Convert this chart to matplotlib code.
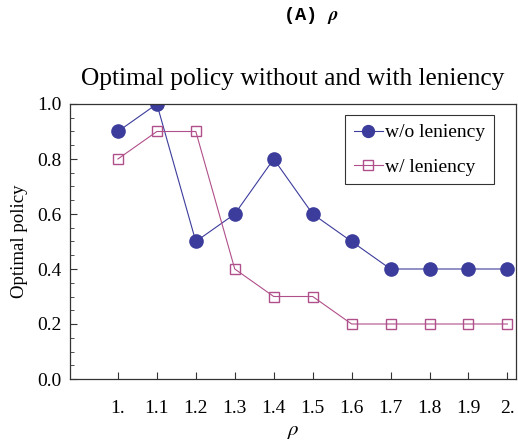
import matplotlib
matplotlib.use("Agg")
import matplotlib.pyplot as plt
from matplotlib.ticker import MultipleLocator, FixedLocator

rho = [1.0, 1.1, 1.2, 1.3, 1.4, 1.5, 1.6, 1.7, 1.8, 1.9, 2.0]
wo_leniency = [0.9, 1.0, 0.5, 0.6, 0.8, 0.6, 0.5, 0.4, 0.4, 0.4, 0.4]
w_leniency = [0.8, 0.9, 0.9, 0.4, 0.3, 0.3, 0.2, 0.2, 0.2, 0.2, 0.2]
xtick_labels = ["1.", "1.1", "1.2", "1.3", "1.4", "1.5", "1.6", "1.7", "1.8", "1.9", "2."]
ytick_vals = [0.0, 0.2, 0.4, 0.6, 0.8, 1.0]

plt.rcParams['font.family'] = ['Liberation Serif', 'DejaVu Serif']
plt.rcParams['mathtext.fontset'] = 'stix'

fig = plt.figure(figsize=(5.18, 4.40), dpi=100)
ax = fig.add_axes([70/518, 61/440, 446/518, 275/440])

blue = '#3C3C9C'
pink = '#B0508A'

ax.plot(rho, wo_leniency, color=blue, lw=0.8, marker='o', ms=9.5,
        mfc=blue, mec=blue, label='w/o leniency')
ax.plot(rho, w_leniency, color=pink, lw=0.8, marker='s', ms=7.5,
        mfc='none', mec=pink, mew=1.0, label='w/ leniency')

ax.set_xlim(0.877, 2.022)
ax.set_ylim(0.0, 1.0)
ax.xaxis.set_major_locator(FixedLocator(rho))
ax.set_xticklabels(xtick_labels)
ax.yaxis.set_major_locator(FixedLocator(ytick_vals))
ax.set_yticklabels(["%.1f" % v for v in ytick_vals])
ax.yaxis.set_minor_locator(MultipleLocator(0.05))

ax.tick_params(axis='both', which='major', direction='in', labelsize=14,
               top=False, right=False, length=5, width=0.8, color='#333333')
ax.tick_params(axis='y', which='minor', direction='in', length=3, width=0.6,
               right=False, color='#333333')
ax.tick_params(axis='x', pad=15)
ax.tick_params(axis='y', pad=6)
for s in ax.spines.values():
    s.set_linewidth(0.9)
    s.set_color('#333333')

ax.set_xlabel(r'$\rho$', fontsize=15, labelpad=4)
ax.set_ylabel('Optimal policy', fontsize=13.6, labelpad=7)

ax.set_title('Optimal policy without and with leniency', fontsize=18.3, pad=14)

fig.text(311/518, 1 - 16/440, r'(A) $\boldsymbol{\rho}$', ha='center', va='center',
         fontsize=13.5, fontweight='bold', family=['Liberation Mono', 'DejaVu Sans Mono'])

leg = ax.legend(loc='upper left', bbox_to_anchor=((345-70)/446, 1 - (115-104)/275),
                fontsize=14, frameon=True, fancybox=False, edgecolor='black',
                handlelength=1.5, handletextpad=0.1, borderpad=0.45, labelspacing=0.85,
                borderaxespad=0, markerscale=0.9)
leg.get_frame().set_linewidth(0.8)

fig.savefig('out.png', dpi=100)
